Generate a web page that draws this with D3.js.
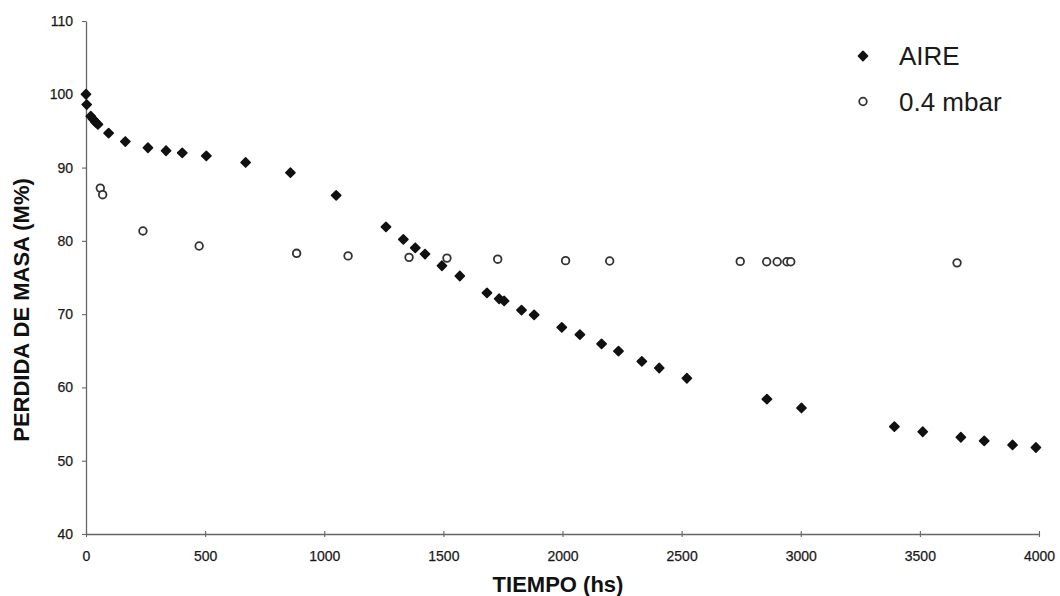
<!DOCTYPE html>
<html>
<head>
<meta charset="utf-8">
<script src="https://cdn.jsdelivr.net/npm/d3@7"></script>
<style>
  html, body { margin: 0; padding: 0; background: #fff; }
  svg { display: block; }
  text { font-family: "Liberation Sans", Arial, sans-serif; }
</style>
</head>
<body>
<svg id="chart" width="1060" height="596"></svg>
<script>
// Mass loss over time: samples aged in air vs. under 0.4 mbar
const aireTime = [0, 3, 20, 30, 40, 50, 95, 165, 260, 336, 404, 505, 670, 858, 1050,
  1259, 1332, 1382, 1423, 1494, 1569, 1683, 1734, 1755, 1828, 1881, 1997, 2073, 2164,
  2235, 2333, 2406, 2522, 2858, 3003, 3393, 3512, 3672, 3770, 3889, 3987];
const aireMass = [100.0, 98.6, 97.0, 96.6, 96.2, 95.9, 94.7, 93.55, 92.7, 92.3, 92.0, 91.6, 90.7, 89.3, 86.2,
  81.9, 80.2, 79.05, 78.2, 76.6, 75.2, 72.9, 72.1, 71.8, 70.55, 69.9, 68.2, 67.2, 65.95,
  64.95, 63.55, 62.65, 61.25, 58.4, 57.2, 54.65, 53.95, 53.2, 52.7, 52.15, 51.8];

const vacTime = [60, 70, 239, 475, 884, 1100, 1356, 1515, 1728, 2013, 2198, 2746, 2857, 2901, 2942, 2958, 3656];
const vacMass = [87.2, 86.3, 81.35, 79.3, 78.3, 77.95, 77.75, 77.65, 77.5, 77.3, 77.25, 77.2, 77.15, 77.15, 77.15, 77.15, 77.0];

const xTicks = [0, 500, 1000, 1500, 2000, 2500, 3000, 3500, 4000];
const yTicks = [40, 50, 60, 70, 80, 90, 100, 110];
const seriesNames = ["AIRE", "0.4 mbar"];

const svg = d3.select("#chart");

const x = d3.scaleLinear().domain([0, 4000]).range([86, 1039]);
const y = d3.scaleLinear().domain([40, 110]).range([534, 21]);

const axisColor = "#666";
const labelColor = "#1a1a1a";

// x axis
const gx = svg.append("g")
  .attr("transform", `translate(0,${y(40)})`)
  .call(d3.axisBottom(x).tickValues(xTicks).tickFormat(d3.format("d"))
    .tickSize(3).tickSizeOuter(0).tickPadding(14));
gx.selectAll(".tick line").attr("y1", -3).attr("y2", 3);

// y axis
const gy = svg.append("g")
  .attr("transform", `translate(${x(0)},0)`)
  .call(d3.axisLeft(y).tickValues(yTicks).tickFormat(d3.format("d"))
    .tickSize(4).tickSizeOuter(0).tickPadding(9));

[gx, gy].forEach(g => {
  g.select(".domain").attr("stroke", axisColor).attr("stroke-width", 1.3);
  g.selectAll(".tick line").attr("stroke", axisColor).attr("stroke-width", 1.1);
  g.selectAll(".tick text")
    .attr("fill", labelColor)
    .attr("stroke", labelColor).attr("stroke-width", 0.25)
    .style("font-family", "'Liberation Sans', Arial, sans-serif")
    .style("font-size", "14px");
});

// axis titles
svg.append("text")
  .attr("x", 558).attr("y", 592)
  .attr("text-anchor", "middle")
  .style("font-size", "22px").style("font-weight", "bold")
  .attr("fill", "#111")
  .text("TIEMPO (hs)");

svg.append("text")
  .attr("transform", "translate(29,310) rotate(-90)")
  .attr("text-anchor", "middle")
  .style("font-size", "22px").style("font-weight", "bold")
  .attr("fill", "#111")
  .text("PERDIDA DE MASA (M%)");

// marker shapes
const diamond = (cx, cy, r) =>
  `M${cx},${cy - r}L${cx + r},${cy}L${cx},${cy + r}L${cx - r},${cy}Z`;

const aire = aireTime.map((t, i) => ({ t, m: aireMass[i] }));
const vac = vacTime.map((t, i) => ({ t, m: vacMass[i] }));

svg.append("g").selectAll("circle")
  .data(vac).join("circle")
  .attr("cx", d => x(d.t)).attr("cy", d => y(d.m))
  .attr("r", 3.8)
  .attr("fill", "#fff").attr("stroke", "#333").attr("stroke-width", 1.8);

svg.append("g").selectAll("path")
  .data(aire).join("path")
  .attr("d", d => diamond(x(d.t), y(d.m), 4.6))
  .attr("fill", "#111").attr("stroke", "#111")
  .attr("stroke-width", 1.6).attr("stroke-linejoin", "round");

// legend
const legend = svg.append("g");
legend.append("path")
  .attr("d", diamond(863, 56, 4.6))
  .attr("fill", "#111").attr("stroke", "#111")
  .attr("stroke-width", 1.6).attr("stroke-linejoin", "round");
legend.append("circle")
  .attr("cx", 863).attr("cy", 101.5).attr("r", 3.8)
  .attr("fill", "#fff").attr("stroke", "#333").attr("stroke-width", 1.8);
legend.selectAll("text")
  .data(seriesNames).join("text")
  .attr("x", 899)
  .attr("y", (d, i) => 56 + i * 45.5)
  .attr("dy", "0.36em")
  .style("font-size", "26px")
  .attr("fill", labelColor)
  .text(d => d);
</script>
</body>
</html>
